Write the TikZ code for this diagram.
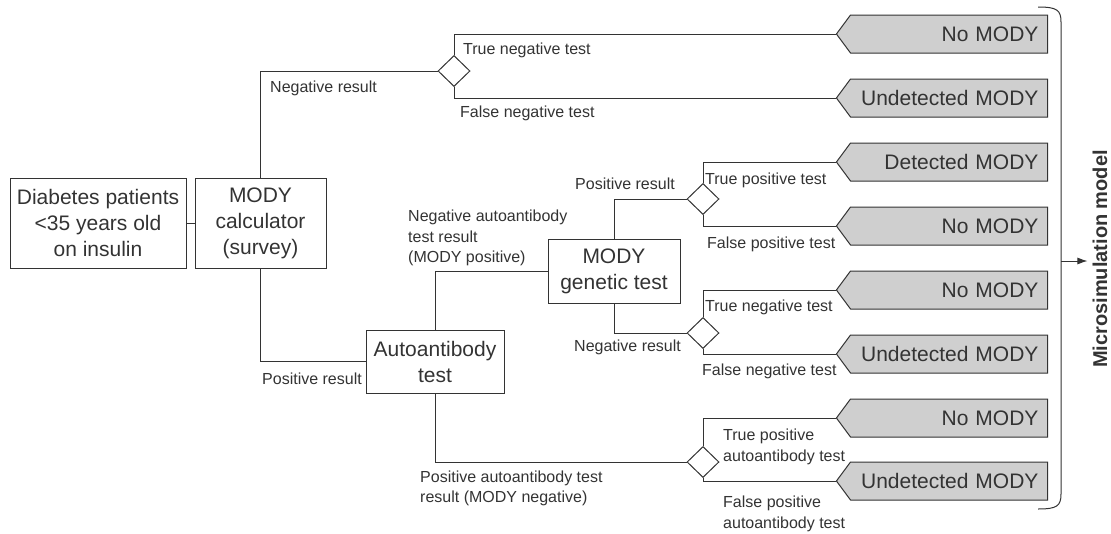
\documentclass[tikz,border=0pt]{standalone}
\usepackage{fontspec}
\setmainfont{Liberation Sans}
\usetikzlibrary{shapes.geometric,shapes.symbols,arrows.meta}
\definecolor{ink}{HTML}{333333}
\definecolor{outfill}{HTML}{CFCFCF}
\tikzset{
  box/.style={draw=ink, line width=1pt, align=center, inner sep=0pt,
    font=\fontsize{21}{26}\selectfont, text=ink},
  chance/.style={draw=ink, line width=1pt, diamond, inner sep=0pt,
    minimum width=32pt, minimum height=31pt},
  outcome/.style={draw=ink, fill=outfill, line width=1pt, signal, signal to=west,
    signal pointer angle=107, text width=179pt, align=right, inner xsep=9pt,
    inner ysep=0pt, minimum height=38pt, anchor=east,
    font=\fontsize{21}{26}\selectfont, text=ink},
  lbl/.style={anchor=west, inner sep=0pt, align=left, text=ink,
    font=\fontsize{16}{20.5}\selectfont},
  link/.style={draw=ink, line width=1pt},
}
\begin{document}
\begin{tikzpicture}[x=1pt,y=-1pt]
            \useasboundingbox (0,0) rectangle (1111,533);
            % starting boxes
            \node[box, minimum width=176pt, minimum height=90pt] (diab) at (98,223)
              {Diabetes patients\\<35 years old\\on insulin};
            \node[box, minimum width=131pt, minimum height=90pt] (calc) at (260.5,223)
              {MODY\\calculator\\(survey)};
            \node[box, minimum width=138pt, minimum height=63pt] (auto) at (435,361.5)
              {Autoantibody\\test};
            \node[box, minimum width=132pt, minimum height=64pt] (gen) at (614,271)
              {MODY\\genetic test};
            % chance nodes
            \node[chance] (d1) at (454,71) {};
            \node[chance] (d2) at (703,199) {};
            \node[chance] (d3) at (703,333) {};
            \node[chance] (d4) at (703,462) {};
            % outcomes
            \node[outcome] (o1) at (1048,34) {No MODY};
            \node[outcome] (o2) at (1048,98) {Undetected MODY};
            \node[outcome] (o3) at (1048,162) {Detected MODY};
            \node[outcome] (o4) at (1048,226) {No MODY};
            \node[outcome] (o5) at (1048,290) {No MODY};
            \node[outcome] (o6) at (1048,354) {Undetected MODY};
            \node[outcome] (o7) at (1048,418) {No MODY};
            \node[outcome] (o8) at (1048,481) {Undetected MODY};
            % connectors
            \draw[link] (diab) -- (calc);
            \draw[link] (calc.north) |- (d1.west);
            \draw[link] (d1.north) |- (o1.west);
            \draw[link] (d1.south) |- (o2.west);
            \draw[link] (calc.south) |- (auto.west);
            \draw[link] (auto.north) |- (gen.west);
            \draw[link] (gen.north) |- (d2.west);
            \draw[link] (d2.north) |- (o3.west);
            \draw[link] (d2.south) |- (o4.west);
            \draw[link] (gen.south) |- (d3.west);
            \draw[link] (d3.north) |- (o5.west);
            \draw[link] (d3.south) |- (o6.west);
            \draw[link] (auto.south) |- (d4.west);
            \draw[link] (d4.north) |- (o7.west);
            \draw[link] (d4.south) |- (o8.west);
            % branch labels
            \node[lbl] (l1) at (270,88) {Negative result};
            \node[lbl] (l2) at (463,50) {True negative test};
            \node[lbl] (l3) at (460,113) {False negative test};
            \node[lbl] (l4) at (262,379) {Positive result};
            \node[lbl] (l5) at (408,238) {Negative autoantibody\\test result\\(MODY positive)};
            \node[lbl] (l6) at (575,184) {Positive result};
            \node[lbl] (l7) at (705,180) {True positive test};
            \node[lbl] (l8) at (707,244) {False positive test};
            \node[lbl] (l9) at (574,347) {Negative result};
            \node[lbl] (l10) at (705,307) {True negative test};
            \node[lbl] (l11) at (702,371) {False negative test};
            \node[lbl] (l12) at (420,488.5) {Positive autoantibody test\\result (MODY negative)};
            \node[lbl] (l13) at (723,447) {True positive\\autoantibody test};
            \node[lbl] (l14) at (723,514) {False positive\\autoantibody test};
            % bracket into the model
            \coordinate (btop) at (1038,7);
            \coordinate (bbot) at (1038,509);
            \coordinate (bmid) at (1061,261);
            \draw[link] (btop) .. controls (1057,7) and (1061,10) .. (1061,22)
              -- (1061,494) .. controls (1061,506) and (1057,509) .. (bbot);
            \node[rotate=90, inner sep=0pt, text=ink,
              font=\fontsize{20}{24}\bfseries] (model) at (1100,259) {Microsimulation model};
            \draw[link, shorten >=5pt, -{Latex[length=10pt,width=7pt]}] (bmid) -- (bmid -| model.north);
        \end{tikzpicture}
\end{document}
